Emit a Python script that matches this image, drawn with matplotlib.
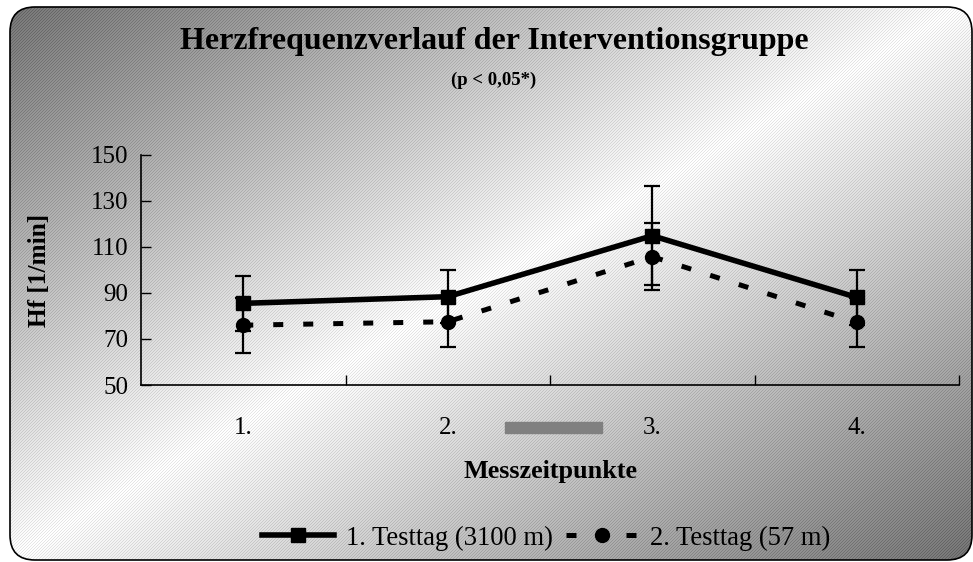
import numpy as np
import matplotlib
matplotlib.use('Agg')
import matplotlib.pyplot as plt
from matplotlib.patches import FancyBboxPatch, Rectangle

# values
zeitpunkte = ['1.', '2.', '3.', '4.']
testtag1 = [85.5, 88.4, 114.9, 88.1]     # 1. Testtag (3100 m)
testtag1_sd = [11.9, 11.6, 21.6, 11.9]
testtag2 = [76.0, 77.5, 105.8, 77.2]     # 2. Testtag (57 m)
testtag2_sd = [12.0, 11.0, 14.5, 10.5]
yticks = [50, 70, 90, 110, 130, 150]

plt.rcParams['font.family'] = ['Liberation Serif', 'DejaVu Serif']

W, H = 973, 562
fig = plt.figure(figsize=(W / 100, H / 100), dpi=100)

# background: diagonal gradient with fine hatch lines, inside rounded frame
bg = fig.add_axes([0, 0, 1, 1], zorder=-1)
bg.set_xlim(0, W)
bg.set_ylim(H, 0)
bg.axis('off')
yy, xx = np.mgrid[0:H, 0:W]
d = np.abs(xx / W + yy / H - 1)
shade = 1 - 0.54 * d
shade[(xx + yy) % 3 == 0] -= 0.1
im = bg.imshow(shade, cmap='gray', vmin=0, vmax=1, extent=(0, W, H, 0),
               interpolation='nearest', aspect='auto')
frame = FancyBboxPatch((10, 7), 962, 553, boxstyle='round,pad=0,rounding_size=25',
                       fc='none', ec='black', lw=1.2)
bg.add_patch(frame)
im.set_clip_path(frame)

ax = fig.add_axes([141 / W, 1 - 385 / H, 818 / W, 230 / H])
ax.set_facecolor('none')
x = np.arange(1, len(zeitpunkte) + 1)

ax.plot(x, testtag2, color='black', lw=3.6, ls=(0, (2.0, 4.0)), marker='o',
        ms=10, zorder=3, label='2. Testtag (57 m)')
ax.plot(x, testtag1, color='black', lw=4, ls='-', marker='s', ms=10,
        zorder=3.5, label='1. Testtag (3100 m)')
ax.errorbar(x, testtag2, yerr=testtag2_sd, fmt='none', ecolor='black',
            elinewidth=1.6, capsize=5.5, capthick=1.6, zorder=4)
ax.errorbar(x, testtag1, yerr=testtag1_sd, fmt='none', ecolor='black',
            elinewidth=1.6, capsize=5.5, capthick=1.6, zorder=4)

ax.set_xlim(0.5, 4.5)
ax.set_ylim(50, 150)
ax.set_yticks(yticks)
ax.set_xticks(x)
ax.set_xticklabels(zeitpunkte)
ax.set_xticks(x + 0.5, minor=True)
ax.tick_params(axis='x', which='major', length=0, pad=23, labelsize=18)
ax.tick_params(axis='x', which='minor', direction='in', length=7, width=1)
ax.tick_params(axis='y', direction='in', length=7, width=1, pad=9, labelsize=18)
for s in ['top', 'right']:
    ax.spines[s].set_visible(False)
for s in ['left', 'bottom']:
    ax.spines[s].set_linewidth(1.2)

ax.set_xlabel('Messzeitpunkte', fontsize=18.8, fontweight='bold', va='center')
ax.xaxis.set_label_coords(0.5, -0.378)
ax.set_ylabel('Hf [1/min]', fontsize=18.3, fontweight='bold', va='center')
ax.yaxis.set_label_coords(-0.1235, 0.5)

fig.text(494 / W, 1 - 42 / H, 'Herzfrequenzverlauf der Interventionsgruppe',
         fontsize=23, fontweight='bold', ha='center', va='center')
fig.text(494 / W, 1 - 80 / H, '(p < 0,05*)', fontsize=13.5, fontweight='bold',
         ha='center', va='center')

# stray grey bar seen between labels 2. and 3.
fig.patches.append(Rectangle((505 / W, 1 - 433 / H), 97 / W, 11 / H,
                             transform=fig.transFigure, color='#808080'))

h, l = ax.get_legend_handles_labels()
fig.legend(h[::-1], l[::-1], loc='center', bbox_to_anchor=(546 / W, 1 - 538 / H),
           ncol=2, frameon=False, fontsize=19.2, handlelength=2.7,
           handletextpad=0.45, columnspacing=0.5)

fig.savefig('out.png', dpi=100)
